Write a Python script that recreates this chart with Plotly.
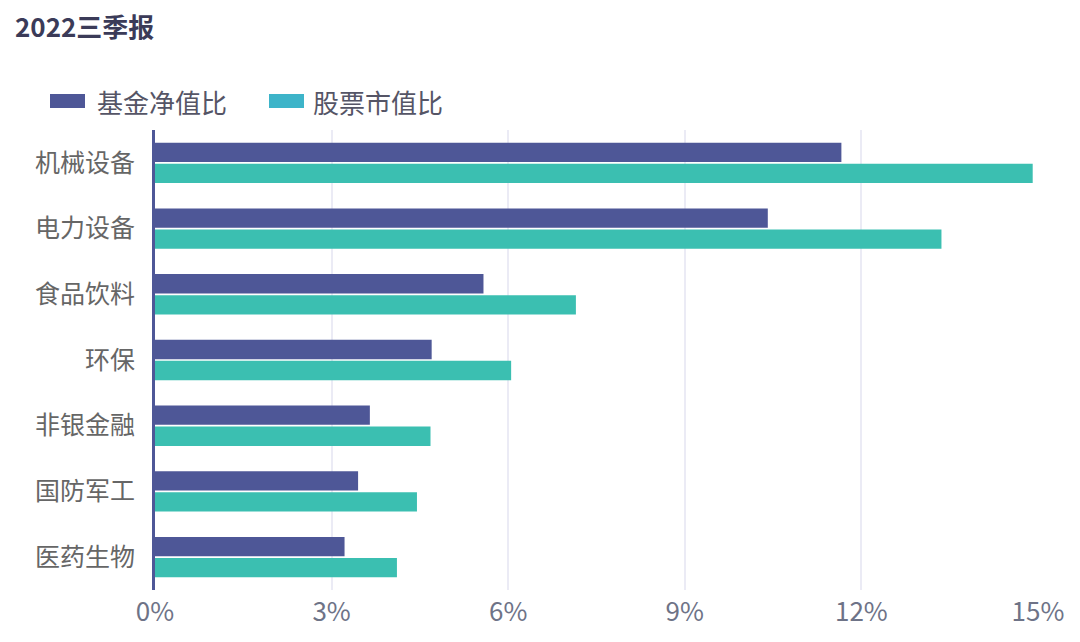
import plotly.graph_objects as go

categories = ["机械设备", "电力设备", "食品饮料", "环保", "非银金融", "国防军工", "医药生物"]
fund_nav_ratio = [11.66, 10.41, 5.58, 4.70, 3.65, 3.45, 3.22]
stock_mv_ratio = [14.91, 13.36, 7.15, 6.05, 4.68, 4.45, 4.11]
tick_vals = [0, 3, 6, 9, 12, 15]
tick_text = ["0%", "3%", "6%", "9%", "12%", "15%"]

FONT = "Noto Sans CJK SC"
c_fund = "#4e5797"
c_stock = "#3bbfb1"
c_stock_legend = "#3db4c9"

fig = go.Figure()
fig.add_trace(go.Bar(y=categories, x=fund_nav_ratio, orientation="h", name="基金净值比",
                     marker=dict(color=c_fund, line=dict(width=0)), showlegend=False))
fig.add_trace(go.Bar(y=categories, x=stock_mv_ratio, orientation="h", name="股票市值比",
                     marker=dict(color=c_stock, line=dict(width=0)), showlegend=False))

fig.update_layout(
    width=1080, height=642,
    margin=dict(l=155, r=42, t=130, b=52),
    paper_bgcolor="white", plot_bgcolor="white",
    barmode="group", bargap=0.36, bargroupgap=0.08,
    font=dict(family=FONT),
    xaxis=dict(range=[0, 15], tickvals=tick_vals, ticktext=tick_text,
               showgrid=True, gridcolor="#ebebf5", gridwidth=1.5,
               zeroline=False, showline=False,
               tickfont=dict(size=26, color="#6e7387", family=FONT), ticks="", ticklen=0,
               ticklabelstandoff=4),
    yaxis=dict(autorange="reversed", showgrid=False, zeroline=False,
               showline=True, linecolor=c_fund, linewidth=3,
               ticks="", ticklabelstandoff=12,
               tickfont=dict(size=25, color="#666666", family=FONT)),
    showlegend=False,
)

def px_x(px):
    return (px - 155) / (1080 - 155 - 42)

def px_y(py):
    return (642 - 52 - py) / (642 - 130 - 52)

# Title
fig.add_annotation(text="<b>2022三季报</b>", xref="paper", yref="paper",
                   x=px_x(13), y=px_y(26), xanchor="left", yanchor="middle",
                   showarrow=False, font=dict(size=26, color="#3b3b58", family=FONT))

# Manual legend
legend_items = [("基金净值比", c_fund, 50, 95), ("股票市值比", c_stock_legend, 269, 311)]
for label, col, sx, tx in legend_items:
    fig.add_shape(type="rect", xref="paper", yref="paper",
                  x0=px_x(sx), x1=px_x(sx + 35), y0=px_y(108), y1=px_y(94),
                  fillcolor=col, line=dict(width=0), layer="above")
    fig.add_annotation(text=label, xref="paper", yref="paper",
                       x=px_x(tx), y=px_y(102), xanchor="left", yanchor="middle",
                       showarrow=False, font=dict(size=26, color="#555566", family=FONT))

fig.write_html("out.html")
